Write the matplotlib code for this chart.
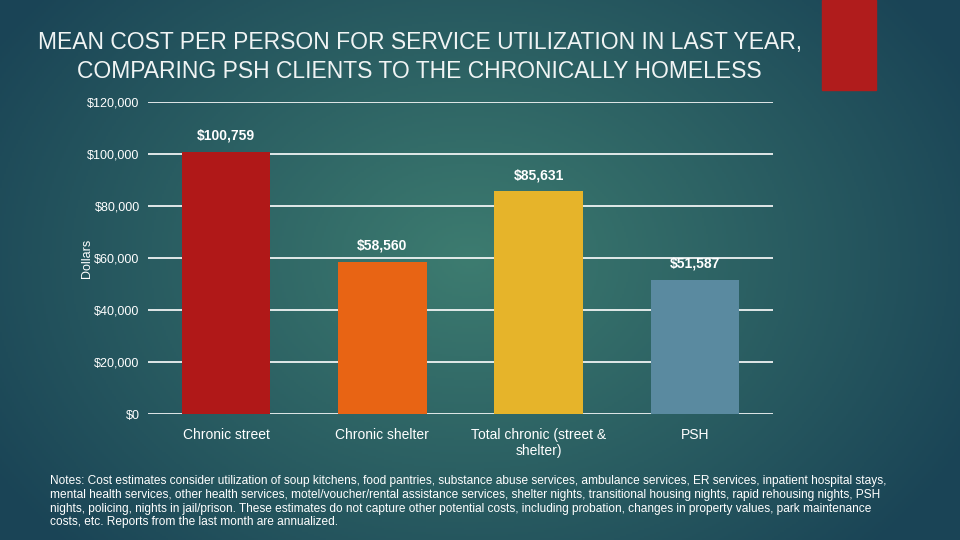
import numpy as np
import matplotlib.pyplot as plt
from matplotlib.patches import Rectangle
from matplotlib.ticker import FuncFormatter

plt.rcParams['font.family'] = ['Liberation Sans', 'DejaVu Sans']

# chart data
categories = ['Chronic street', 'Chronic shelter', 'Total chronic (street &\nshelter)', 'PSH']
costs = [100759, 58560, 85631, 51587]
bar_colors = ['#b01818', '#e86414', '#e6b42a', '#5a8aa0']
yticks = [0, 20000, 40000, 60000, 80000, 100000, 120000]

title = ('MEAN COST PER PERSON FOR SERVICE UTILIZATION IN LAST YEAR,\n'
         'COMPARING PSH CLIENTS TO THE CHRONICALLY HOMELESS')
notes = ('Notes: Cost estimates consider utilization of soup kitchens, food pantries, substance abuse services, '
         'ambulance services, ER services, inpatient hospital stays,\n'
         'mental health services, other health services, motel/voucher/rental assistance services, shelter nights, '
         'transitional housing nights, rapid rehousing nights, PSH\n'
         'nights, policing, nights in jail/prison. These estimates do not capture other potential costs, including '
         'probation, changes in property values, park maintenance\n'
         'costs, etc. Reports from the last month are annualized.')

fig = plt.figure(figsize=(9.6, 5.4), dpi=100)

# radial teal background
bg = fig.add_axes([0, 0, 1, 1])
xx, yy = np.meshgrid(np.linspace(0, 960, 480), np.linspace(0, 540, 270))
r = np.sqrt(((xx - 470) / 560) ** 2 + ((yy - 260) / 420) ** 2)
r = np.clip(r, 0, 1)
c0 = np.array([0x3d, 0x7c, 0x70]) / 255
c1 = np.array([0x1a, 0x44, 0x56]) / 255
img = c0[None, None, :] * (1 - r[..., None]) + c1[None, None, :] * r[..., None]
bg.imshow(img, extent=[0, 960, 540, 0], aspect='auto')
bg.add_patch(Rectangle((822, 0), 54, 90, color='#b01c1c'))
bg.set_xlim(0, 960)
bg.set_ylim(540, 0)
bg.axis('off')

fig.text(0.437, 1 - 57 / 540, title, ha='center', va='center', color='#f0f4f4',
         fontsize=16.5, linespacing=1.28)

ax = fig.add_axes([148 / 960, 1 - 414 / 540, 625 / 960, 312 / 540])
ax.patch.set_alpha(0)
x = np.arange(len(categories))
ax.bar(x, costs, width=0.565, color=bar_colors, zorder=3)
for xi, v in zip(x, costs):
    ax.text(xi, v + 3500, f'${v:,}', ha='center', va='bottom', color='white',
            fontsize=10, fontweight='bold')

ax.set_xlim(-0.5, 3.5)
ax.set_ylim(0, 120000)
ax.set_yticks(yticks)
ax.yaxis.set_major_formatter(FuncFormatter(lambda v, p: f'${v:,.0f}'))
ax.set_xticks(x)
ax.set_xticklabels(categories)
ax.tick_params(length=0, colors='white', labelsize=9)
ax.tick_params(axis='x', labelsize=10, pad=10)
ax.tick_params(axis='y', pad=6)
ax.grid(axis='y', color='white', linewidth=1.2, zorder=1)
for s in ax.spines.values():
    s.set_visible(False)
ax.set_ylabel('Dollars', color='white', fontsize=9)
ax.yaxis.set_label_coords(-0.088, 0.5)

fig.text(50 / 960, 1 - 475 / 540, notes, ha='left', va='top', color='white',
         fontsize=8.6, linespacing=1.2)

fig.savefig('out.png', dpi=100)
